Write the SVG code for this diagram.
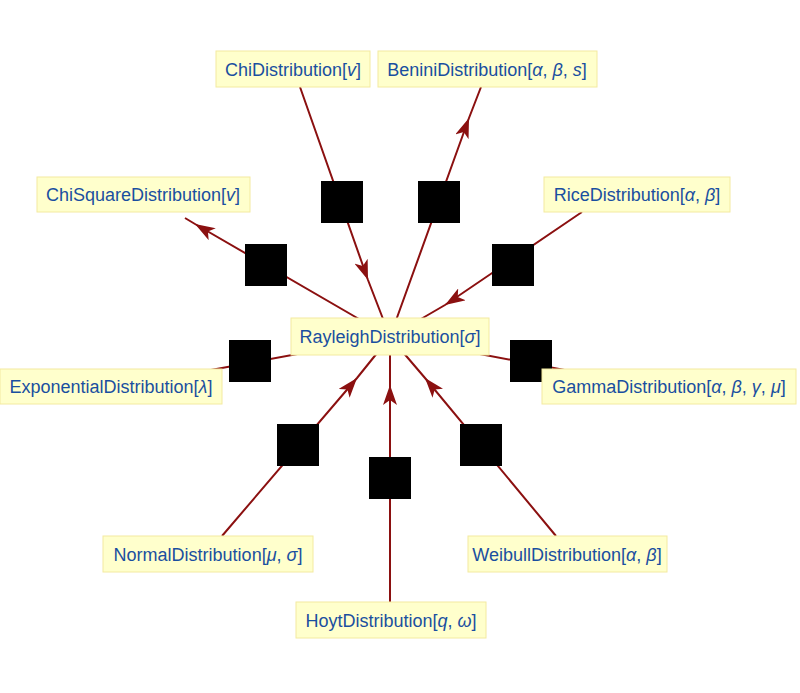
<svg xmlns="http://www.w3.org/2000/svg" width="800" height="693" viewBox="0 0 800 693">
<defs>
<style>
.e{fill:none;stroke:#8b1010;stroke-width:2;marker-mid:url(#a)}
.b{fill:#ffffcc;stroke:#f3eaa0;stroke-width:1}
.t{font-family:"Liberation Sans",Arial,sans-serif;font-size:18px;fill:#1a4fa0;text-anchor:middle}
.s{fill:#000}
</style>
<marker id="a" viewBox="0 0 20 14" refX="20" refY="7" markerWidth="20" markerHeight="14" markerUnits="userSpaceOnUse" orient="auto"><path d="M0,0 L20,7 L0,14 L5,7 Z" fill="#8b1010"/></marker>
</defs>
<rect width="800" height="693" fill="#fff"/>
<g id="connectors">
<path class="e" d="M300,87 L368,280 L390,337"/>
<path class="e" d="M390,337 L469,118 L481,87"/>
<path class="e" d="M390,337 L195,224 L185,218"/>
<path class="e" d="M582,212 L445,305 L390,337"/>
<path class="e" d="M390,337 L200,372"/>
<path class="e" d="M390,337 L575,372"/>
<path class="e" d="M222,536 L357,378 L390,337"/>
<path class="e" d="M390,602 L390,385 L390,337"/>
<path class="e" d="M556,536 L425,378 L390,337"/>
</g>
<g id="squares">
<rect class="s" x="321" y="181" width="42" height="42"/>
<rect class="s" x="418" y="181" width="42" height="42"/>
<rect class="s" x="245" y="244" width="42" height="42"/>
<rect class="s" x="492" y="244" width="42" height="42"/>
<rect class="s" x="229" y="340" width="42" height="42"/>
<rect class="s" x="510" y="340" width="42" height="42"/>
<rect class="s" x="277" y="424" width="42" height="42"/>
<rect class="s" x="460" y="424" width="42" height="42"/>
<rect class="s" x="369" y="457" width="42" height="42"/>
</g>
<g id="rayleigh"><rect class="b" x="291" y="318" width="198" height="37"/><text class="t" x="390" y="343">RayleighDistribution[<tspan font-style="italic">σ</tspan>]</text></g>
<g id="chi"><rect class="b" x="216" y="51" width="154" height="36"/><text class="t" x="293" y="76">ChiDistribution[<tspan font-style="italic">v</tspan>]</text></g>
<g id="benini"><rect class="b" x="378" y="51" width="219" height="36"/><text class="t" x="487" y="76">BeniniDistribution[<tspan font-style="italic">α</tspan>, <tspan font-style="italic">β</tspan>, <tspan font-style="italic">s</tspan>]</text></g>
<g id="chisquare"><rect class="b" x="37" y="177" width="213" height="35"/><text class="t" x="143" y="201">ChiSquareDistribution[<tspan font-style="italic">v</tspan>]</text></g>
<g id="rice"><rect class="b" x="544" y="177" width="186" height="35"/><text class="t" x="637" y="201">RiceDistribution[<tspan font-style="italic">α</tspan>, <tspan font-style="italic">β</tspan>]</text></g>
<g id="exponential"><rect class="b" x="0" y="369" width="222" height="35"/><text class="t" x="111" y="393">ExponentialDistribution[<tspan font-style="italic">λ</tspan>]</text></g>
<g id="gamma"><rect class="b" x="542" y="369" width="254" height="35"/><text class="t" x="669" y="393">GammaDistribution[<tspan font-style="italic">α</tspan>, <tspan font-style="italic">β</tspan>, <tspan font-style="italic">γ</tspan>, <tspan font-style="italic">μ</tspan>]</text></g>
<g id="normal"><rect class="b" x="103" y="536" width="210" height="36"/><text class="t" x="208" y="561">NormalDistribution[<tspan font-style="italic">μ</tspan>, <tspan font-style="italic">σ</tspan>]</text></g>
<g id="weibull"><rect class="b" x="468" y="536" width="199" height="36"/><text class="t" x="567" y="561">WeibullDistribution[<tspan font-style="italic">α</tspan>, <tspan font-style="italic">β</tspan>]</text></g>
<g id="hoyt"><rect class="b" x="296" y="602" width="190" height="36"/><text class="t" x="391" y="627">HoytDistribution[<tspan font-style="italic">q</tspan>, <tspan font-style="italic">ω</tspan>]</text></g>
</svg>
